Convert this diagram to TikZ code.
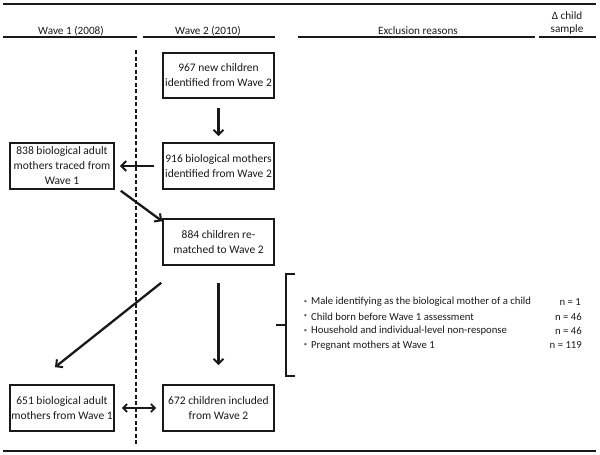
\documentclass[tikz,border=0pt]{standalone}
\usepackage{fontspec}
\setmainfont{Carlito}
\usetikzlibrary{arrows.meta,calc}
\definecolor{ink}{gray}{0.1}
\begin{document}
\begin{tikzpicture}[x=1pt,y=-1pt,
  every node/.style={text=ink},
  box/.style={draw=ink,line width=1.6pt,align=center,inner sep=0pt,
    minimum height=46pt,font=\fontsize{11.5}{15}\selectfont},
  wbox/.style={box,minimum width=111pt},
  nbox/.style={box,minimum width=104pt},
  hdr/.style={font=\fontsize{11.2}{13}\selectfont,inner sep=0pt},
  rule/.style={draw=ink,line width=1.4pt},
  arr/.style={draw=ink,line width=2.3pt,-{Straight Barb[length=5pt,width=10pt,line width=2pt]}},
  item/.style={font=\fontsize{10.7}{12}\selectfont,inner sep=0pt,anchor=west},
  cnt/.style={font=\fontsize{10.7}{12}\selectfont,inner sep=0pt,anchor=east},
  bul/.style={font=\fontsize{6.5}{7}\selectfont,inner sep=0pt,text=ink!70}]
\useasboundingbox (0,0) rectangle (600,455);
% rules
\draw[rule,line width=1.6pt] (3,4) -- (596,4);
\draw[rule,line width=1.6pt] (3,451) -- (596,451);
\node[hdr] (h1) at (71,31) {Wave 1 (2008)};
\node[hdr] (h2) at (208,31) {Wave 2 (2010)};
\node[hdr] (h3) at (418,31) {Exclusion reasons};
\node[hdr,align=center] (h4) at (567,23.5) {Δ child\\sample};
\draw[rule] (3,37) -- (137,37);
\draw[rule] (143,37) -- (275,37);
\draw[rule] (298,37) -- (535,37);
\draw[rule] (539,37) -- (596,37);
% dashed divider
\draw[draw=ink,line width=1.5pt,dash pattern=on 4pt off 2.5pt] (136,50) -- (136,446);
% boxes
\node[wbox,minimum height=45pt] (n967) at (218.5,75.5) {967 new children\\identified from Wave 2};
\node[wbox] (n916) at (218.5,166) {916 biological mothers\\identified from Wave 2};
\node[nbox] (n838) at (62,166) {838 biological adult\\mothers traced from\\Wave 1};
\node[wbox] (n884) at (218.5,242) {884 children re-\\matched to Wave 2};
\node[nbox] (n651) at (62,408) {651 biological adult\\mothers from Wave 1};
\node[wbox] (n672) at (218.5,408) {672 children included\\from Wave 2};
% connectors
\draw[arr,shorten <=9pt,shorten >=6pt] (n967.south) -- (n916.north);
\draw[arr,shorten <=8pt,shorten >=5pt] (n916.west) -- (n838.east);
\coordinate (a1) at ($(n838.south east)+(6,1)$);
\coordinate (a2) at ($(n884.north west)+(0,3)$);
\draw[arr] (a1) -- (a2);
\draw[arr,shorten <=17pt,shorten >=19pt] (n884.south) -- (n672.north);
\coordinate (b1) at ($(n884.south west)+(-1,17)$);
\coordinate (b2) at ($(n651.north)+(-7,-17)$);
\draw[arr] (b1) -- (b2);
\draw[draw=ink,line width=2.2pt,{Straight Barb[length=4pt,width=8pt,line width=1.8pt]}-{Straight Barb[length=4pt,width=8pt,line width=1.8pt]},shorten <=7pt,shorten >=6pt] (n651.east) -- (n672.west);
% exclusion list
\node[item] (e1) at (311,302) {Male identifying as the biological mother of a child};
\node[item] (e2) at (311,316.5) {Child born before Wave 1 assessment};
\node[item] (e3) at (311,331) {Household and individual-level non-response};
\node[item] (e4) at (311,345.5) {Pregnant mothers at Wave 1};
\foreach \i in {1,...,4} \node[bul] (b\i) at ($(e\i.west)+(-5.5,0)$) {•};
\node[cnt] (c1) at (581,302) {n = 1};
\node[cnt] (c2) at (582,316.5) {n = 46};
\node[cnt] (c3) at (582,331) {n = 46};
\node[cnt] (c4) at (582,345.5) {n = 119};
\coordinate (k1) at (295,274);
\coordinate (k2) at (295,376);
\draw[draw=ink,line width=1.6pt] (k1) -| (286,325) |- (k2);
\draw[draw=ink,line width=1.6pt] (276,325) -- (286,325);
\end{tikzpicture}
\end{document}
